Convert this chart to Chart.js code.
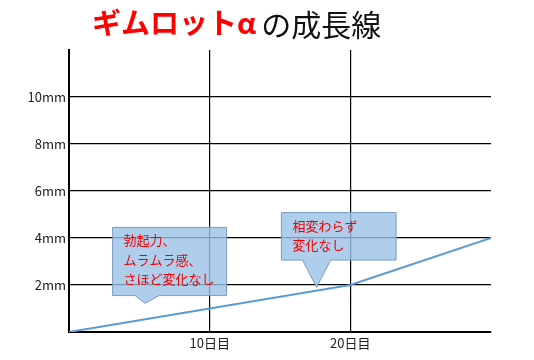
<!DOCTYPE html>
<html>
<head>
<meta charset="utf-8">
<script src="https://cdn.jsdelivr.net/npm/chart.js@4/dist/chart.umd.min.js"></script>
<style>
  html, body { margin: 0; padding: 0; background: #fff; }
  #wrap { width: 534px; height: 360px; }
</style>
</head>
<body>
<div id="wrap"><canvas id="growth"></canvas></div>
<script>
// growth line data (days -> length in mm)
const days = [0, 20, 30];
const lengthMm = [0, 2, 4];

// tick labels
const xTickLabels = { 10: '10日目', 20: '20日目' };
const yTickLabels = { 2: '2mm', 4: '4mm', 6: '6mm', 8: '8mm', 10: '10mm' };

// title pieces
const titleRed = 'ギムロットα';
const titleBlack = 'の成長線';

// callout notes, placed in data units
const noteLines1 = ['勃起力、', 'ムラムラ感、', 'さほど変化なし'];
const noteLines2 = ['相変わらず', '変化なし'];
const notes = [
  { lines: noteLines1, box: [3.1, 4.45, 11.2, 1.55], base: [4.7, 6.4], tip: [5.4, 1.22] },
  { lines: noteLines2, box: [15.1, 5.08, 23.25, 3.06], base: [16.6, 18.6], tip: [17.6, 1.9] }
];

const JP = '"Noto Sans CJK JP", "Noto Sans", sans-serif';

const titlePlugin = {
  id: 'mixedTitle',
  afterDraw(chart) {
    const ctx = chart.ctx;
    ctx.save();
    ctx.textBaseline = 'middle';
    ctx.textAlign = 'left';
    ctx.font = 'bold 29px ' + JP;
    ctx.fillStyle = '#ff0000';
    ctx.fillText(titleRed, 92, 23);
    const w = ctx.measureText(titleRed).width;
    ctx.font = '30px ' + JP;
    ctx.fillStyle = '#111';
    ctx.fillText(titleBlack, 92 + w + 5, 25);
    ctx.restore();
  }
};

const calloutPlugin = {
  id: 'callouts',
  afterDatasetsDraw(chart) {
    const ctx = chart.ctx;
    const xs = chart.scales.x, ys = chart.scales.y;
    ctx.save();
    notes.forEach(n => {
      const l = xs.getPixelForValue(n.box[0]);
      const t = ys.getPixelForValue(n.box[1]);
      const r = xs.getPixelForValue(n.box[2]);
      const b = ys.getPixelForValue(n.box[3]);
      const b0 = xs.getPixelForValue(n.base[0]);
      const b1 = xs.getPixelForValue(n.base[1]);
      const tx = xs.getPixelForValue(n.tip[0]);
      const ty = ys.getPixelForValue(n.tip[1]);
      ctx.beginPath();
      ctx.moveTo(l, t);
      ctx.lineTo(r, t);
      ctx.lineTo(r, b);
      ctx.lineTo(b1, b);
      ctx.lineTo(tx, ty);
      ctx.lineTo(b0, b);
      ctx.lineTo(l, b);
      ctx.closePath();
      ctx.fillStyle = 'rgba(155, 194, 230, 0.8)';
      ctx.fill();
      ctx.strokeStyle = '#7a9cc4';
      ctx.lineWidth = 1;
      ctx.stroke();

      ctx.font = '13px ' + JP;
      ctx.fillStyle = '#f00000';
      ctx.textBaseline = 'middle';
      ctx.textAlign = 'left';
      n.lines.forEach((s, i) => {
        ctx.fillText(s, l + 11, t + 13 + i * 19.5);
      });
    });
    ctx.restore();
  }
};

new Chart(document.getElementById('growth'), {
  type: 'line',
  data: {
    datasets: [{
      label: '成長線',
      data: days.map((d, i) => ({ x: d, y: lengthMm[i] })),
      borderColor: '#5b9bd5',
      borderWidth: 2,
      pointRadius: 0,
      tension: 0,
      fill: false
    }]
  },
  options: {
    responsive: true,
    maintainAspectRatio: false,
    animation: false,
    layout: { padding: { top: 50, right: 43, left: 0, bottom: 0 } },
    plugins: {
      legend: { display: false },
      tooltip: { enabled: false }
    },
    scales: {
      x: {
        type: 'linear',
        min: 0,
        max: 30,
        afterFit(scale) { scale.height = 28; },
        ticks: {
          stepSize: 10,
          autoSkip: false,
          maxRotation: 0,
          padding: 3,
          color: '#222',
          font: { family: JP, size: 13 },
          callback: v => xTickLabels[v] || ''
        },
        grid: {
          drawTicks: false,
          lineWidth: 1.2,
          color: c => (xTickLabels[c.tick.value] ? '#000' : 'rgba(0,0,0,0)')
        },
        border: { display: true, color: '#000', width: 2 }
      },
      y: {
        min: 0,
        max: 12,
        afterFit(scale) { scale.width = 69; },
        ticks: {
          stepSize: 2,
          padding: 3,
          color: '#222',
          font: { family: JP, size: 13 },
          callback: v => yTickLabels[v] || ''
        },
        grid: {
          drawTicks: false,
          lineWidth: 1.2,
          color: c => (yTickLabels[c.tick.value] ? '#000' : 'rgba(0,0,0,0)')
        },
        border: { display: true, color: '#000', width: 2 }
      }
    }
  },
  plugins: [titlePlugin, calloutPlugin]
});
</script>
</body>
</html>
